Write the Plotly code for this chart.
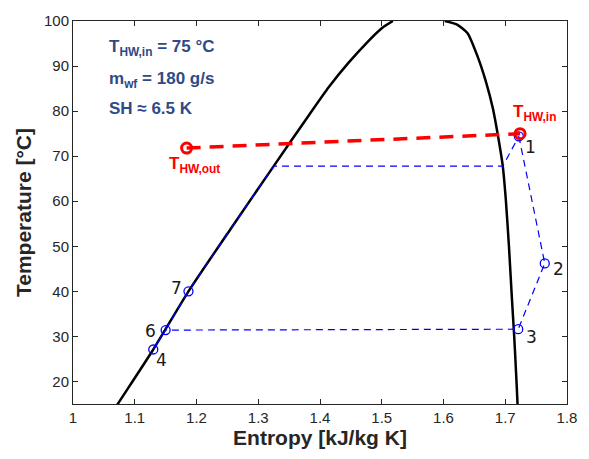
import plotly.graph_objects as go

# Saturation dome of the working fluid (T-s diagram)
sat_liq_s = [1.049, 1.0725, 1.130, 1.187, 1.2555, 1.325, 1.382, 1.414, 1.446, 1.478, 1.500, 1.518]
sat_liq_T = [10.0, 15.0, 27.1, 40.0, 53.9, 67.8, 79.1, 85.3, 90.7, 95.5, 98.4, 100.0]
sat_vap_s = [1.602, 1.622, 1.639, 1.655, 1.669, 1.680, 1.688, 1.696, 1.701, 1.706, 1.7105, 1.7145, 1.7175, 1.720, 1.721]
sat_vap_T = [100.0, 99.2, 97.3, 92.2, 86.4, 80.6, 74.7, 67.8, 60.2, 50.0, 39.1, 30.0, 22.0, 14.7, 10.0]

# ORC cycle path: 1 -> 2 -> 3 -> 6 -> 4 -> 7 -> evaporation -> 1
cycle_s = [1.722, 1.764, 1.721, 1.150, 1.130, 1.187, 1.2555, 1.325, 1.696, 1.722]
cycle_T = [74.4, 46.2, 31.6, 31.4, 27.1, 40.0, 53.9, 67.8, 67.8, 74.4]

# Numbered state points
state_labels = ["1", "2", "3", "4", "6", "7"]
state_s = [1.722, 1.764, 1.721, 1.130, 1.150, 1.187]
state_T = [74.4, 46.2, 31.6, 27.1, 31.4, 40.0]
label_s = [1.741, 1.786, 1.743, 1.143, 1.126, 1.168]
label_T = [72.0, 45.0, 29.8, 24.7, 31.3, 40.7]

# Hot water stream
hw_s = [1.184, 1.724]
hw_T = [71.8, 75.0]

x_ticks = [1, 1.1, 1.2, 1.3, 1.4, 1.5, 1.6, 1.7, 1.8]
y_ticks = [20, 30, 40, 50, 60, 70, 80, 90, 100]

axis_col = "#262626"
info_col = "#2F4A86"
sans = "Liberation Sans, Arial"

fig = go.Figure()

fig.add_trace(go.Scatter(x=sat_liq_s, y=sat_liq_T, mode="lines",
                         line=dict(color="black", width=2.5, shape="spline", smoothing=0.6),
                         hoverinfo="skip"))
fig.add_trace(go.Scatter(x=sat_vap_s, y=sat_vap_T, mode="lines",
                         line=dict(color="black", width=2.5, shape="spline", smoothing=0.6),
                         hoverinfo="skip"))

fig.add_trace(go.Scatter(x=cycle_s, y=cycle_T, mode="lines",
                         line=dict(color="#0000FF", width=1.2, dash="7px,5px")))
fig.add_trace(go.Scatter(x=state_s, y=state_T, mode="markers",
                         marker=dict(symbol="circle-open", size=9, color="#0000FF",
                                     line=dict(width=1.3, color="#0000FF"))))

fig.add_trace(go.Scatter(x=hw_s, y=hw_T, mode="lines",
                         line=dict(color="#FF0000", width=3.5, dash="14px,9px")))
fig.add_trace(go.Scatter(x=hw_s, y=hw_T, mode="markers",
                         marker=dict(symbol="circle-open", size=10, color="#FF0000",
                                     line=dict(width=3, color="#FF0000"))))

annotations = []
for lab, xs, yt in zip(state_labels, label_s, label_T):
    annotations.append(dict(x=xs, y=yt, text=lab, showarrow=False,
                            font=dict(family="DejaVu Sans", size=17, color="#1a1a1a")))

annotations.append(dict(x=1.747, y=79.5, text="<b>T<sub>HW,in</sub></b>", showarrow=False,
                        font=dict(family=sans, size=17, color="#FF0000")))
annotations.append(dict(x=1.196, y=68.0, text="<b>T<sub>HW,out</sub></b>", showarrow=False,
                        font=dict(family=sans, size=17, color="#FF0000")))

info_lines = ["<b>T<sub>HW,in</sub> = 75 °C</b>",
              "<b>m<sub>wf</sub> = 180 g/s</b>",
              "<b>SH ≈ 6.5 K</b>"]
info_T = [94.0, 87.0, 80.6]
for txt, yt in zip(info_lines, info_T):
    annotations.append(dict(x=1.055, y=yt, text=txt, showarrow=False, xanchor="left",
                            font=dict(family=sans, size=17, color=info_col)))

fig.update_layout(
    width=589, height=459,
    margin=dict(l=73, r=19, t=14, b=55),
    paper_bgcolor="white", plot_bgcolor="white",
    showlegend=False,
    annotations=annotations,
    xaxis=dict(range=[1, 1.8], tickvals=x_ticks, ticktext=[f"{v:g}" for v in x_ticks],
               ticks="inside", ticklen=5, tickcolor=axis_col, mirror="ticks",
               showline=True, linecolor=axis_col, linewidth=1, showgrid=False, zeroline=False,
               tickfont=dict(family=sans, size=15, color=axis_col),
               title=dict(text="<b>Entropy [kJ/kg K]</b>", standoff=4,
                          font=dict(family=sans, size=21, color=axis_col))),
    yaxis=dict(range=[15, 100], tickvals=y_ticks,
               ticks="inside", ticklen=5, tickcolor=axis_col, mirror="ticks",
               showline=True, linecolor=axis_col, linewidth=1, showgrid=False, zeroline=False,
               tickfont=dict(family=sans, size=15, color=axis_col),
               title=dict(text="<b>Temperature [°C]</b>", standoff=6,
                          font=dict(family=sans, size=21, color=axis_col))),
)

fig.write_html("out.html")
